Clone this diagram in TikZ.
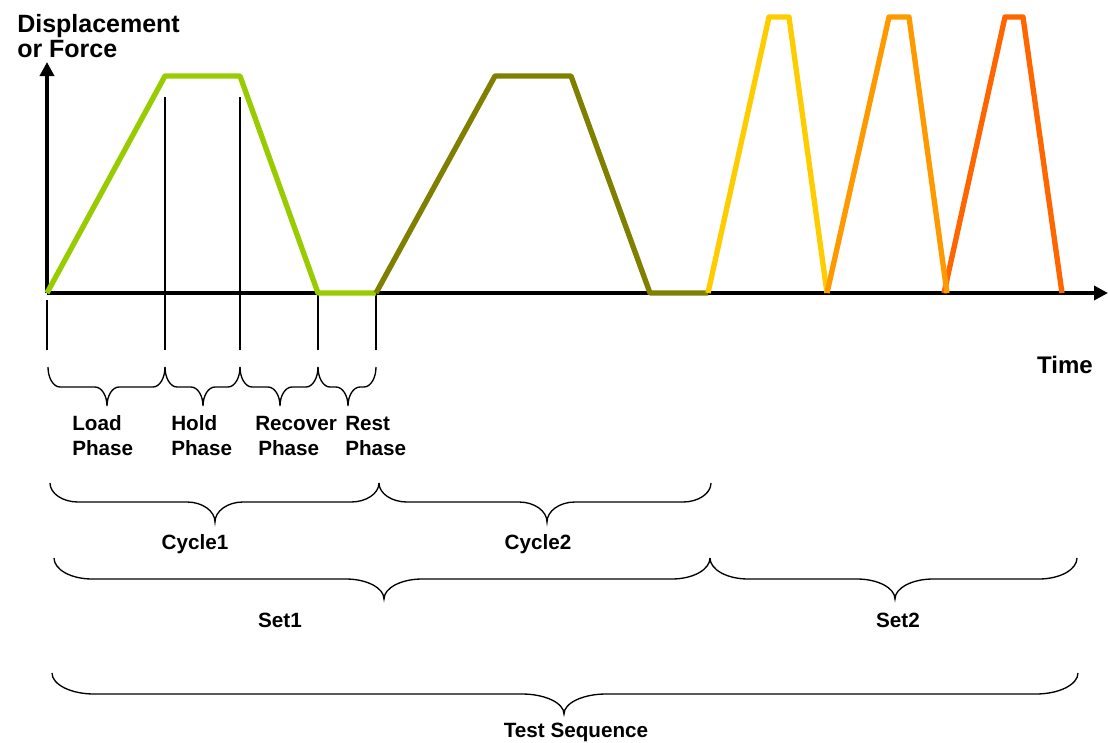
\documentclass[tikz,border=0pt]{standalone}
\usepackage{fontspec}
\setmainfont{Liberation Sans}
\usetikzlibrary{arrows.meta}
\definecolor{cgreen}{HTML}{99CC00}
\definecolor{colive}{HTML}{808000}
\definecolor{cyellow}{HTML}{FFCC00}
\definecolor{corange}{HTML}{FF9900}
\definecolor{cred}{HTML}{FF6600}
\newcommand{\lblfont}{\fontsize{15.5}{18}\selectfont\bfseries}
\newcommand{\titfont}{\fontsize{18.75}{20}\selectfont\bfseries}
\newcommand{\timefont}{\fontsize{18}{20}\selectfont\bfseries}
% x0, x1, xtip, ytop, yflat, ytip, d
\newcommand{\mybrace}[7]{%
  \draw[bracestyle] (#1,#4)
    .. controls (#1,{#4+0.55*(#5-#4)}) and ({#1+0.45*#7},#5) .. ({#1+#7},#5)
    -- ({#3-#7},#5)
    .. controls ({#3-0.45*#7},#5) and (#3,{#6-0.55*(#6-#5)}) .. (#3,#6)
    .. controls (#3,{#6-0.55*(#6-#5)}) and ({#3+0.45*#7},#5) .. ({#3+#7},#5)
    -- ({#2-#7},#5)
    .. controls ({#2-0.45*#7},#5) and (#2,{#4+0.55*(#5-#4)}) .. (#2,#4);}
\begin{document}
\begin{tikzpicture}[x=0.75pt,y=-0.75pt,
  axisline/.style={line width=3.4pt,-{Triangle[length=10.5pt,width=10.5pt]}},
  curve/.style={line width=4pt,line join=round},
  thinline/.style={line width=1pt},
  bracestyle/.style={line width=1pt},
  lbl/.style={inner sep=0pt,font=\lblfont},
]
\useasboundingbox (0,0) rectangle (1108,743);
% axes
\coordinate (O) at (47,293);
\coordinate (Ytop) at (47,62);
\coordinate (Xend) at (1108,293);
\draw[axisline] (O) -- (Ytop);
\draw[axisline] (O) -- (Xend);
% thin vertical markers
\draw[thinline] (47,300) -- (47,350);
\draw[thinline] (165,97) -- (165,350);
\draw[thinline] (240,97) -- (240,350);
\draw[thinline] (318,293) -- (318,350);
\draw[thinline] (376,293) -- (376,350);
% curves
\draw[curve,cgreen] (47,293) -- (165,76) -- (240,76) -- (318,293) -- (376,293);
\draw[curve,colive] (376,293) -- (495,76) -- (571,76) -- (650,293) -- (708,293);
\draw[curve,cyellow] (708,293) -- (769,17) -- (789,17) -- (827,293);
\draw[curve,cred] (944,293) -- (1005,17) -- (1023,17) -- (1062,293);
\draw[curve,corange] (827,293) -- (889,17) -- (909,17) -- (947,293);
% braces
\mybrace{48}{165}{107}{367}{387}{406}{12}
\mybrace{165}{240}{203}{367}{387}{406}{12}
\mybrace{240}{318}{280}{367}{387}{406}{12}
\mybrace{318}{376}{348}{367}{387}{406}{12}
\mybrace{50}{379}{215}{483}{502}{522}{28}
\mybrace{379}{711}{547}{483}{502}{522}{28}
\mybrace{54}{710}{384}{558}{579}{599}{38}
\mybrace{710}{1077}{895}{558}{579}{599}{38}
\mybrace{52}{1078}{564}{673}{694}{714}{42}
% labels
\node[inner sep=0pt,anchor=base west,font=\titfont] (t1) at (17,32) {Displacement};
\node[inner sep=0pt,anchor=base west,font=\titfont] (t2) at (17,57) {or Force};
\node[inner sep=0pt,anchor=base,font=\timefont] (time) at (1065,373) {Time};
\node[lbl,anchor=base west] (l1) at (72,430) {Load};
\node[lbl,anchor=base west] (l2) at (72,455) {Phase};
\node[lbl,anchor=base west] (h1) at (171,430) {Hold};
\node[lbl,anchor=base west] (h2) at (171,455) {Phase};
\node[lbl,anchor=base west] (r1) at (255,430) {Recover};
\node[lbl,anchor=base west] (r2) at (258,455) {Phase};
\node[lbl,anchor=base west] (s1) at (345,430) {Rest};
\node[lbl,anchor=base west] (s2) at (345,455) {Phase};
\node[lbl,anchor=base] (c1) at (195,549) {Cycle1};
\node[lbl,anchor=base] (c2) at (538,549) {Cycle2};
\node[lbl,anchor=base] (set1) at (280,627) {Set1};
\node[lbl,anchor=base] (set2) at (898,627) {Set2};
\node[lbl,anchor=base] (ts) at (576,737) {Test Sequence};
\end{tikzpicture}
\end{document}
